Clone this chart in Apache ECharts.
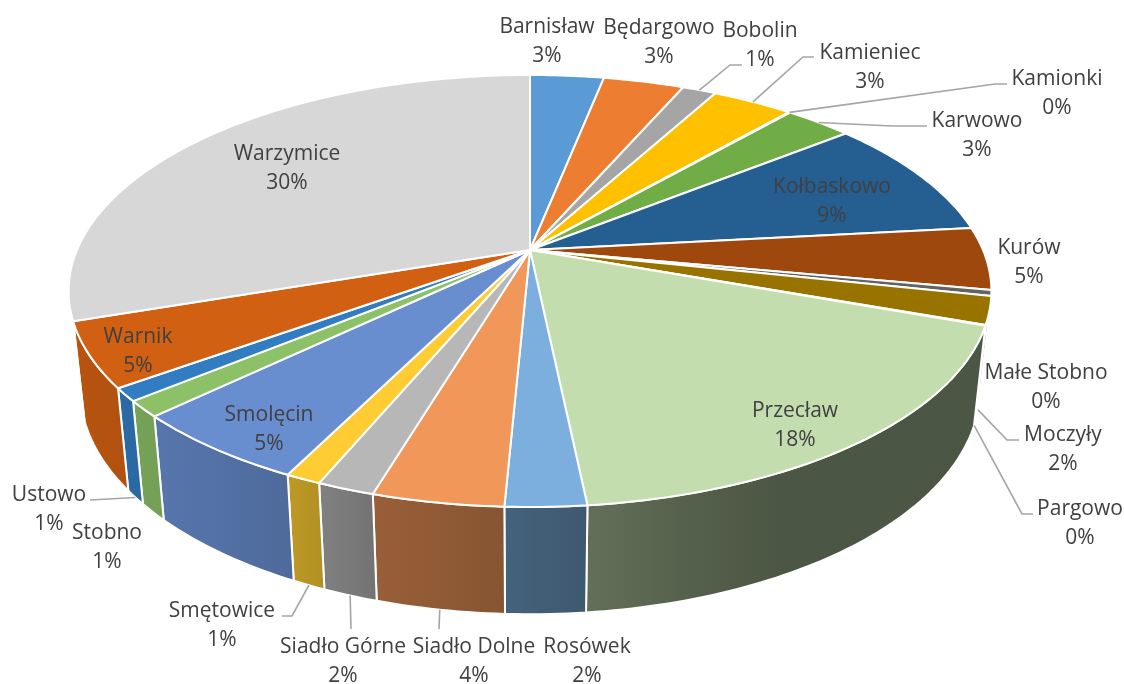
<!DOCTYPE html>
<html>
<head>
<meta charset="utf-8">
<style>html,body{margin:0;padding:0;background:#fff}#c{width:1124px;height:684px}</style>
<script src="https://cdn.jsdelivr.net/npm/echarts@6/dist/echarts.min.js"></script>
</head>
<body>
<div id="c"></div>
<script>
const names = ['Barnisław','Będargowo','Bobolin','Kamieniec','Kamionki','Karwowo','Kołbaskowo','Kurów','Małe Stobno','Moczyły','Pargowo','Przecław','Rosówek','Siadło Dolne','Siadło Górne','Smętowice','Smolęcin','Stobno','Ustowo','Warnik','Warzymice'];
const values = [3.10,3.40,1.42,3.42,0.05,2.84,9.04,4.70,0.42,2.08,0.05,17.83,2.37,3.85,1.69,1.05,5.47,1.20,0.97,4.83,30.2];
const topColors = ['#5B9BD5','#ED7D31','#A5A5A5','#FFC000','#4472C4','#70AD47','#255E91','#9E480E','#636363','#997300','#264478','#C4DDAF','#7CAFDD','#F1975A','#B7B7B7','#FFCD33','#698ED0','#8CC168','#327DC2','#D26012','#D7D7D7'];

// Projection of the tilted disc (apex, semi-axes, perspective, extrusion)
const CX = 530, CY = 250, A = 453, B = 208.2, K = 0.1898;
const WALL_FROM = 106, WALL_TO = 251.5;
const shadeStops = [[70,.88],[285,.75],[375,.63],[505,.56],[590,.5],[700,.43],[780,.39],[1000,.39]];

// Label layout: block centre, optional leader [elbow, end], ring the leader starts on
const labelLayout = {
  'Barnisław':[547,42], 'Będargowo':[659,43],
  'Bobolin':[760,46,[[730,65],[742,65]],'top'],
  'Kamieniec':[870,68,[[803,57],[814,57]],'top'],
  'Kamionki':[1057,94,[[995,84],[1007,84]],'top'],
  'Karwowo':[977,136,[[892,126],[927,126]],'top'],
  'Kołbaskowo':[832,202], 'Kurów':[1029,262.5], 'Małe Stobno':[1046,388],
  'Moczyły':[1063,450,[[1007,440],[1019,440]],'bottom'],
  'Pargowo':[1080,524,[[1022,514],[1033,514]],'bottom'],
  'Przecław':[795,426], 'Rosówek':[587,662],
  'Siadło Dolne':[474,662,[[439,629]],'bottom'],
  'Siadło Górne':[343,662,[[351,629]],'bottom'],
  'Smętowice':[222,626,[[292,616],[282,616]],'bottom'],
  'Smolęcin':[269,430], 'Stobno':[107,548],
  'Ustowo':[49,510,[[90,500]],'bottom'],
  'Warnik':[138,352], 'Warzymice':[287,168.5]
};

const total = values.reduce((s, v) => s + v, 0);
const startDeg = [];
values.reduce((s, v, i) => { startDeg[i] = s / total * 360; return s + v; }, 0);
const endDeg = i => startDeg[i] + values[i] / total * 360;

function topPt(deg) {
  const r = deg * Math.PI / 180, u = Math.sin(r), v = -Math.cos(r), w = 1 - K * v;
  return [CX + A * u / w, CY + B * v / w];
}
function botPt(deg) {
  const p = topPt(deg);
  return [CX + .975 * (p[0] - CX), p[1] + 97 + .04 * (p[1] - CY)];
}
function arc(fn, a, b) {
  const n = Math.max(1, Math.ceil(Math.abs(b - a))), pts = [];
  for (let i = 0; i <= n; i++) pts.push(fn(a + (b - a) * i / n));
  return pts;
}
function wallFill(hex) {
  const c = [1, 3, 5].map(i => parseInt(hex.substr(i, 2), 16));
  const stops = shadeStops.map(s => ({
    offset: s[0] / 1124,
    color: 'rgb(' + c.map(x => Math.round(x * s[1])).join(',') + ')'
  }));
  return new echarts.graphic.LinearGradient(0, 0, 1124, 0, stops, true);
}
const edge = {stroke: '#fff', lineWidth: 2, lineJoin: 'round'};

const chart = echarts.init(document.getElementById('c'), null, {renderer: 'canvas'});
chart.setOption({
  animation: false,
  backgroundColor: '#fff',
  series: [
    { // side walls
      type: 'custom', coordinateSystem: 'none', silent: true, z: 1, data: values,
      renderItem(p) {
        const i = p.dataIndex, a = Math.max(startDeg[i], WALL_FROM), b = Math.min(endDeg(i), WALL_TO);
        if (b <= a) return {type: 'group', children: []};
        const pts = arc(topPt, a, b).concat(arc(botPt, b, a));
        return {type: 'polygon', shape: {points: pts}, style: Object.assign({fill: wallFill(topColors[i])}, edge)};
      }
    },
    { // top faces
      type: 'custom', coordinateSystem: 'none', silent: true, z: 2, data: values,
      renderItem(p) {
        const i = p.dataIndex;
        const pts = [[CX, CY]].concat(arc(topPt, startDeg[i], endDeg(i)));
        return {type: 'polygon', shape: {points: pts}, style: Object.assign({fill: topColors[i]}, edge)};
      }
    },
    { // labels and leader lines
      type: 'custom', coordinateSystem: 'none', silent: true, z: 3, data: values,
      renderItem(p, api) {
        const i = p.dataIndex, l = labelLayout[names[i]], kids = [];
        if (l[2]) {
          const mid = (startDeg[i] + endDeg(i)) / 2;
          const start = l[3] === 'top' ? topPt(mid) : botPt(mid);
          kids.push({type: 'polyline', shape: {points: [start].concat(l[2])},
            style: {fill: 'none', stroke: '#A5A5A5', lineWidth: 1.6}});
        }
        kids.push({type: 'text', style: {
          x: l[0], y: l[1], text: names[i] + '\n' + Math.round(api.value(0)) + '%',
          align: 'center', verticalAlign: 'middle', fill: '#404040',
          font: '21px "Open Sans"', lineHeight: 29
        }});
        return {type: 'group', children: kids};
      }
    }
  ]
});
</script>
</body>
</html>
